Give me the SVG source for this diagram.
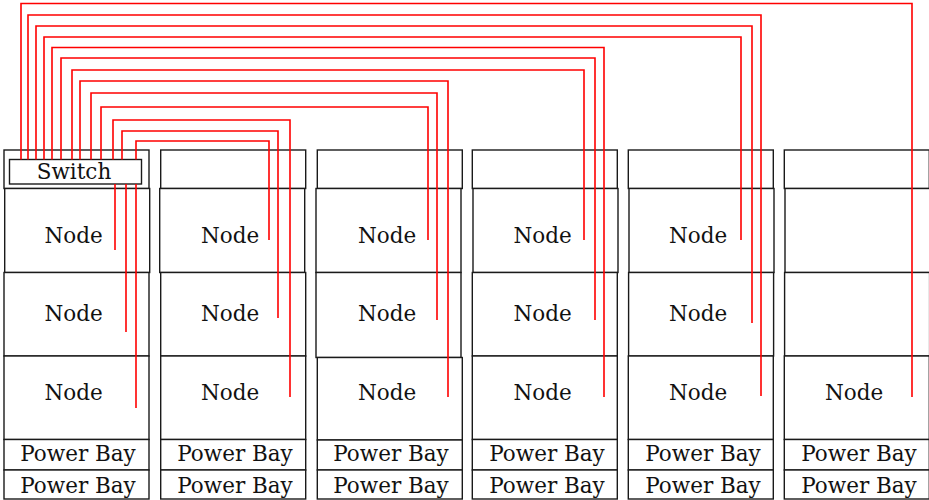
<svg xmlns="http://www.w3.org/2000/svg" width="929" height="500" viewBox="0 0 929 500">
  <style>
    .cell { fill: #ffffff; stroke: #1a1a1a; stroke-width: 1.4; }
    .lbl { font-family: "DejaVu Serif", serif; font-size: 21.5px; fill: #111111; text-anchor: middle; }
    .wire { fill: none; stroke: #ff0000; stroke-width: 1.6; }
  </style>
  <rect x="0" y="0" width="929" height="500" fill="#ffffff"/>

  <!-- Rack 1: switch, three nodes, two power bays -->
  <g id="rack1">
    <rect class="cell" x="4" y="150" width="145" height="38.5"/>
    <g id="switch">
      <rect class="cell" x="9.5" y="159.5" width="132" height="24.5"/>
      <text class="lbl" x="74" y="178.5">Switch</text>
    </g>
    <g id="r1-node1"><rect class="cell" x="4.7" y="188.5" width="145" height="84"/><text class="lbl" x="73.5" y="242.5">Node</text></g>
    <g id="r1-node2"><rect class="cell" x="4" y="272.5" width="145" height="83.5"/><text class="lbl" x="73.5" y="320.5">Node</text></g>
    <g id="r1-node3"><rect class="cell" x="4" y="356" width="145" height="83.5"/><text class="lbl" x="73.5" y="399.5">Node</text></g>
    <g id="r1-power1"><rect class="cell" x="4" y="439.5" width="145" height="30.5"/><text class="lbl" x="78" y="461">Power Bay</text></g>
    <g id="r1-power2"><rect class="cell" x="4" y="470" width="145" height="29"/><text class="lbl" x="78" y="492.5">Power Bay</text></g>
  </g>

  <!-- Rack 2 -->
  <g id="rack2">
    <rect class="cell" x="160.7" y="150" width="145" height="38.5"/>
    <g id="r2-node1"><rect class="cell" x="159.7" y="188.5" width="145" height="84"/><text class="lbl" x="230" y="242.5">Node</text></g>
    <g id="r2-node2"><rect class="cell" x="160.7" y="272.5" width="145" height="83.5"/><text class="lbl" x="230" y="320.5">Node</text></g>
    <g id="r2-node3"><rect class="cell" x="160.7" y="356" width="145" height="83.5"/><text class="lbl" x="230" y="399.5">Node</text></g>
    <g id="r2-power1"><rect class="cell" x="160.7" y="439.5" width="145" height="30.5"/><text class="lbl" x="235" y="461">Power Bay</text></g>
    <g id="r2-power2"><rect class="cell" x="160.7" y="470" width="145" height="29"/><text class="lbl" x="235" y="492.5">Power Bay</text></g>
  </g>

  <!-- Rack 3 -->
  <g id="rack3">
    <rect class="cell" x="317.3" y="150" width="145" height="38.5"/>
    <g id="r3-node1"><rect class="cell" x="316" y="188.5" width="145" height="84"/><text class="lbl" x="387" y="242.5">Node</text></g>
    <g id="r3-node2"><rect class="cell" x="316" y="272.5" width="145" height="85"/><text class="lbl" x="387" y="320.5">Node</text></g>
    <g id="r3-node3"><rect class="cell" x="317.3" y="357.5" width="145" height="82.5"/><text class="lbl" x="387" y="399.5">Node</text></g>
    <g id="r3-power1"><rect class="cell" x="317.3" y="440" width="145" height="30"/><text class="lbl" x="391" y="461">Power Bay</text></g>
    <g id="r3-power2"><rect class="cell" x="317.3" y="470" width="145" height="29"/><text class="lbl" x="391" y="492.5">Power Bay</text></g>
  </g>

  <!-- Rack 4 -->
  <g id="rack4">
    <rect class="cell" x="472.3" y="150" width="145" height="38.5"/>
    <g id="r4-node1"><rect class="cell" x="473" y="188.5" width="145" height="84"/><text class="lbl" x="542.5" y="242.5">Node</text></g>
    <g id="r4-node2"><rect class="cell" x="472.3" y="272.5" width="145" height="83.5"/><text class="lbl" x="542.5" y="320.5">Node</text></g>
    <g id="r4-node3"><rect class="cell" x="472.3" y="356" width="145" height="83.5"/><text class="lbl" x="542.5" y="399.5">Node</text></g>
    <g id="r4-power1"><rect class="cell" x="472.3" y="439.5" width="145" height="30.5"/><text class="lbl" x="547" y="461">Power Bay</text></g>
    <g id="r4-power2"><rect class="cell" x="472.3" y="470" width="145" height="29"/><text class="lbl" x="547" y="492.5">Power Bay</text></g>
  </g>

  <!-- Rack 5 -->
  <g id="rack5">
    <rect class="cell" x="628.3" y="150" width="145" height="38.5"/>
    <g id="r5-node1"><rect class="cell" x="629" y="188.5" width="145" height="84"/><text class="lbl" x="698" y="242.5">Node</text></g>
    <g id="r5-node2"><rect class="cell" x="628.6" y="272.5" width="145" height="83.5"/><text class="lbl" x="698" y="320.5">Node</text></g>
    <g id="r5-node3"><rect class="cell" x="628.3" y="356" width="145" height="83.5"/><text class="lbl" x="698" y="399.5">Node</text></g>
    <g id="r5-power1"><rect class="cell" x="628.3" y="439.5" width="145" height="30.5"/><text class="lbl" x="703" y="461">Power Bay</text></g>
    <g id="r5-power2"><rect class="cell" x="628.3" y="470" width="145" height="29"/><text class="lbl" x="703" y="492.5">Power Bay</text></g>
  </g>

  <!-- Rack 6: two empty slots and one node -->
  <g id="rack6">
    <rect class="cell" x="784.3" y="150" width="145" height="38.5"/>
    <g id="r6-slot1"><rect class="cell" x="785" y="188.5" width="145" height="84"/></g>
    <g id="r6-slot2"><rect class="cell" x="784.6" y="272.5" width="145" height="83.5"/></g>
    <g id="r6-node3"><rect class="cell" x="784.3" y="356" width="145" height="83.5"/><text class="lbl" x="854" y="399.5">Node</text></g>
    <g id="r6-power1"><rect class="cell" x="784.3" y="439.5" width="145" height="30.5"/><text class="lbl" x="859" y="461">Power Bay</text></g>
    <g id="r6-power2"><rect class="cell" x="784.3" y="470" width="145" height="29"/><text class="lbl" x="859" y="492.5">Power Bay</text></g>
  </g>

  <!-- Cabling from the switch to every node -->
  <g id="connectors">
    <path class="wire" d="M21 159.5 V3.5 H912 V397"/>
    <path class="wire" d="M28 159.5 V15 H761 V396"/>
    <path class="wire" d="M36 159.5 V26 H752 V323"/>
    <path class="wire" d="M44 159.5 V37 H741 V240"/>
    <path class="wire" d="M52 159.5 V47.5 H604 V397"/>
    <path class="wire" d="M61 159.5 V58 H595 V320"/>
    <path class="wire" d="M72 159.5 V70 H584 V240"/>
    <path class="wire" d="M80 159.5 V81 H448 V397"/>
    <path class="wire" d="M91 159.5 V93 H437 V320"/>
    <path class="wire" d="M101 159.5 V107 H428 V240"/>
    <path class="wire" d="M113 159.5 V120 H290 V397"/>
    <path class="wire" d="M122 159.5 V131 H278 V318"/>
    <path class="wire" d="M136 159.5 V141 H269 V240"/>
    <path class="wire" d="M115 184 V250"/>
    <path class="wire" d="M126 184 V332"/>
    <path class="wire" d="M136 184 V408"/>
  </g>
</svg>
